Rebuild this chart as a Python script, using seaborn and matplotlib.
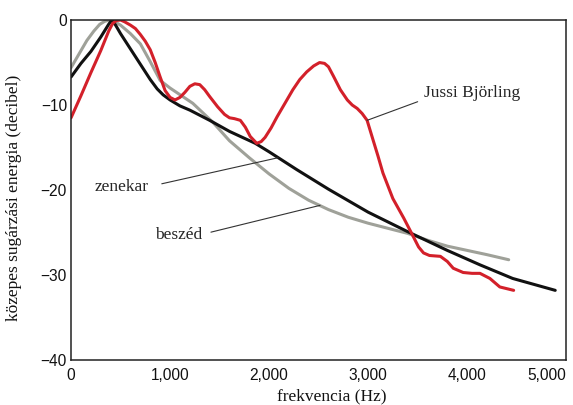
import pandas as pd
import matplotlib
matplotlib.use("Agg")
import matplotlib.pyplot as plt
import seaborn as sns

# ------------------------------------------------------------
# Data (frequency in Hz, level in dB)
# ------------------------------------------------------------

beszed_hz = [0, 80, 160, 230, 290, 340, 390, 440, 500, 600, 700, 800, 900,
             1000, 1230, 1430, 1600, 1800, 2000, 2200, 2400, 2600, 2800, 3000,
             3200, 3400, 3600, 3800, 4000, 4200, 4420]
beszed_db = [-5.6, -4.0, -2.4, -1.3, -0.5, -0.15, 0.0, -0.2, -0.6, -1.6, -2.8,
             -4.9, -7.1, -8.0, -9.8, -12.0, -14.2, -16.2, -18.1, -19.8, -21.2,
             -22.3, -23.2, -23.9, -24.5, -25.1, -25.9, -26.6, -27.1, -27.6,
             -28.2]

zenekar_hz = [0, 100, 200, 300, 380, 411, 450, 500, 600, 700, 800, 870, 930,
              1000, 1100, 1200, 1400, 1600, 1860, 2000, 2280, 2600, 3000, 3400,
              3800, 4130, 4460, 4890]
zenekar_db = [-6.7, -5.1, -3.7, -2.0, -0.5, 0.0, -0.6, -1.6, -3.4, -5.2, -7.0,
              -8.1, -8.8, -9.4, -10.1, -10.6, -11.8, -13.1, -14.5, -15.5, -17.6,
              -19.9, -22.6, -24.9, -27.1, -28.8, -30.4, -31.8]

jussi_hz = [0, 100, 200, 300, 380, 420, 460, 500, 540, 600, 650, 700, 750,
            800, 850, 900, 950, 1000, 1050, 1100, 1150, 1200, 1250, 1300, 1350,
            1400, 1480, 1550, 1600, 1650, 1710, 1760, 1810, 1875, 1920, 1960,
            2020, 2080, 2160, 2240, 2310, 2380, 2450, 2510, 2560, 2600, 2650,
            2720, 2790, 2840, 2890, 2940, 2990, 3050, 3100, 3150, 3250, 3360,
            3440, 3510, 3560, 3620, 3730, 3800, 3860, 3960, 4050, 4130, 4230,
            4330, 4400, 4470]
jussi_db = [-11.5, -8.9, -6.2, -3.6, -1.3, -0.4, -0.05, 0.0, -0.2, -0.6, -1.0,
            -1.7, -2.5, -3.5, -5.0, -6.7, -8.3, -9.1, -9.4, -9.1, -8.5, -7.8,
            -7.5, -7.6, -8.2, -9.0, -10.2, -11.1, -11.5, -11.6, -11.8, -12.6,
            -13.7, -14.5, -14.3, -13.8, -12.7, -11.4, -9.8, -8.2, -7.0, -6.1,
            -5.4, -5.0, -5.1, -5.5, -6.6, -8.2, -9.4, -10.0, -10.4, -11.0,
            -11.8, -14.1, -16.0, -18.0, -21.0, -23.3, -25.1, -26.7, -27.4,
            -27.7, -27.8, -28.4, -29.2, -29.7, -29.8, -29.8, -30.4, -31.4,
            -31.6, -31.8]

x_ticks = [0, 1000, 2000, 3000, 4000, 5000]
x_tick_labels = ["0", "1,000", "2,000", "3,000", "4,000", "5,000"]
y_ticks = [0, -10, -20, -30, -40]

series_names = ["beszéd", "zenekar", "Jussi Björling"]
series_colors = ["#9fa199", "#111111", "#d3202a"]

df = pd.concat([
    pd.DataFrame({"hz": beszed_hz, "db": beszed_db, "series": "beszéd"}),
    pd.DataFrame({"hz": zenekar_hz, "db": zenekar_db, "series": "zenekar"}),
    pd.DataFrame({"hz": jussi_hz, "db": jussi_db, "series": "Jussi Björling"}),
], ignore_index=True)

# ------------------------------------------------------------
# Plot
# ------------------------------------------------------------

sns.set_style("white")
serif = ["Liberation Serif", "DejaVu Serif"]
sans = ["Liberation Sans", "DejaVu Sans"]

fig = plt.figure(figsize=(5.73, 4.05), dpi=100)
ax = fig.add_axes([0.124, 0.111, 0.864, 0.8395])

sns.lineplot(data=df, x="hz", y="db", hue="series", hue_order=series_names,
             palette=series_colors, estimator=None, sort=False, legend=False,
             linewidth=2.2, ax=ax)

ax.set_xlim(0, 5000)
ax.set_ylim(-40, 0)
ax.set_xticks(x_ticks)
ax.set_xticklabels(x_tick_labels)
ax.set_yticks(y_ticks)
ax.tick_params(direction="in", length=8.5, width=1.1, color="#222222",
               labelsize=11.2, labelcolor="#111111", top=False, right=False)
ax.tick_params(axis="x", pad=6)
ax.tick_params(axis="y", pad=3)
for lab in ax.get_xticklabels() + ax.get_yticklabels():
    lab.set_family(sans)
# last x label sits just inside the figure edge, as in the reference
ax.get_xticklabels()[-1].set_horizontalalignment("right")

for side in ["left", "right", "top", "bottom"]:
    ax.spines[side].set_visible(True)
    ax.spines[side].set_linewidth(1.1)
    ax.spines[side].set_color("#222222")

ax.set_xlabel("frekvencia (Hz)", fontsize=12.5, family=serif, color="#111111",
              va="center")
ax.set_ylabel("közepes sugárzási energia (decibel)", fontsize=12.5,
              family=serif, color="#111111")
ax.xaxis.set_label_coords(0.527, -0.106)
ax.yaxis.set_label_coords(-0.099, 0.476)

line_style = dict(arrowstyle="-", color="#333333", linewidth=0.8,
                  shrinkA=2, shrinkB=0)
ax.annotate("Jussi Björling", xy=(2990, -11.8), xytext=(3560, -8.6),
            ha="left", va="center", fontsize=12.5, family=serif,
            arrowprops=dict(line_style, relpos=(0, 0.1)))
ax.annotate("zenekar", xy=(2090, -16.2), xytext=(242, -19.6),
            ha="left", va="center", fontsize=12.5, family=serif,
            arrowprops=dict(line_style, relpos=(1, 0.5), shrinkA=7))
ax.annotate("beszéd", xy=(2515, -21.8), xytext=(848, -25.3),
            ha="left", va="center", fontsize=12.5, family=serif,
            arrowprops=dict(line_style, relpos=(1, 0.55), shrinkA=4))

fig.savefig("out.png", dpi=100)
plt.close(fig)
